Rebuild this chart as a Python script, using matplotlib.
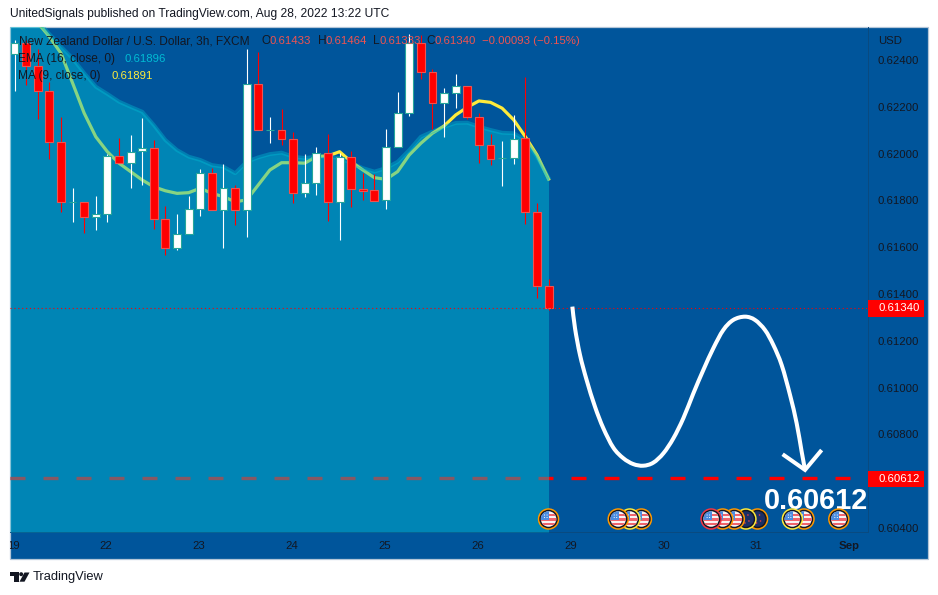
import matplotlib
matplotlib.use('Agg')
import matplotlib.pyplot as plt
from matplotlib.patches import Ellipse, PathPatch, Polygon, Rectangle
from matplotlib.path import Path
from matplotlib.transforms import Bbox

plt.rcParams['font.family'] = ['Liberation Sans', 'DejaVu Sans']

W, H = 938, 595

# 3h candles
opens = [.62426, .62474, .62374, .62269, .62048, .61792, .61792, .61728, .61741, .61991,
         .61959, .62010, .62025, .61719, .61595, .61655, .61763, .61918, .61758, .61854,
         .61758, .62296, .62100, .62100, .62061, .61830, .61873, .62004, .61792, .61984,
         .61847, .61843, .61800, .62027, .62172, .62474, .62350, .62215, .62260, .62288,
         .62155, .62035, .61980, .61980, .62065, .61749, .61433]
highs = [.62485, .62485, .62446, .62307, .62155, .61852, .61792, .61819, .61998, .62068,
         .62079, .62151, .62058, .61776, .61742, .61819, .61933, .61937, .61954, .61866,
         .62446, .62435, .62156, .62189, .62094, .61998, .62029, .62084, .62001, .62011,
         .61916, .61913, .62105, .62263, .62511, .62507, .62360, .62279, .62340, .62288,
         .62172, .62084, .62054, .62165, .62326, .61788, .61464]
lows = [.62269, .62293, .62149, .61977, .61752, .61709, .61659, .61673, .61709, .61959,
        .61854, .61866, .61678, .61567, .61588, .61655, .61735, .61758, .61598, .61695,
        .61645, .62100, .62047, .62037, .61788, .61816, .61823, .61712, .61631, .61773,
        .61802, .61799, .61763, .62027, .62161, .62318, .62105, .62072, .62195, .62147,
        .61961, .61951, .61863, .61956, .61699, .61384, .61333]
closes = [.62474, .62374, .62269, .62048, .61792, .61795, .61728, .61741, .61991, .61959,
          .62008, .62025, .61719, .61595, .61655, .61762, .61918, .61758, .61854, .61758,
          .62296, .62100, .62102, .62061, .61830, .61873, .62004, .61792, .61984, .61847,
          .61841, .61799, .62027, .62172, .62474, .62350, .62215, .62260, .62288, .62155,
          .62035, .61978, .61982, .62064, .61749, .61433, .61340]

ema_16 = [.62678, .62622, .62567, .62511, .62457, .62407, .62344, .62286, .62255, .62222,
          .62200, .62179, .62122, .62058, .62015, .61987, .61973, .61951, .61944, .61916,
          .61965, .61984, .61998, .62004, .61987, .61981, .61987, .61987, .61981, .61960,
          .61938, .61923, .61938, .61965, .62015, .62072, .62094, .62114, .62131, .62132,
          .62115, .62101, .62089, .62087, .62058, .61987, .61896]
ma_9 = [.62656, .62614, .62559, .62500, .62429, .62302, .62173, .62072, .62008, .61959,
        .61923, .61887, .61858, .61841, .61830, .61833, .61852, .61830, .61816, .61794,
        .61802, .61866, .61930, .61961, .61961, .61959, .61987, .61990, .62008, .61965,
        .61930, .61897, .61890, .61923, .61994, .62044, .62087, .62118, .62165, .62198,
        .62225, .62219, .62194, .62144, .62072, .61994, .61891]

# hand drawn forecast
path_idx = [48.05, 48.28, 48.71, 49.28, 50.00, 50.72, 51.58, 52.44, 53.30, 54.16, 55.02, 55.89, 56.75, 57.61,
            58.47, 59.33, 60.19, 61.05, 61.91, 62.92, 63.78, 64.64, 65.36, 66.08, 66.80, 67.37, 67.80, 68.09]
path_price = [.61346, .61253, .61139, .61032, .60918, .60826, .60743, .60698, .60673, .60666, .60679, .60719, .60783, .60869,
              .60975, .61075, .61168, .61246, .61289, .61303, .61289, .61246, .61182, .61096, .60968, .60847, .60726, .60648]
head_idx = [66.16, 68.09, 69.52]
head_price = [.60715, .60648, .60733]

last_price = 0.61340
target_price = 0.60612

price_ticks = [.624, .622, .620, .618, .616, .614, .612, .610, .608, .604]
day_idx = [0, 8, 16, 24, 32, 40, 48, 56, 64, 72]
day_labels = ['19', '22', '23', '24', '25', '26', '29', '30', '31', 'Sep']

event_idx = [46, 52, 53, 54, 60, 61, 62, 63, 64, 67, 68, 71]
event_flag = ['us', 'us', 'us', 'us', 'us', 'us', 'us', 'nz', 'nz', 'us', 'us', 'us']
event_ring = ['#ff9800', '#ff9800', '#ffeb3b', '#ff9800', '#f23645', '#ff9800',
              '#ff9800', '#ffeb3b', '#ff9800', '#ffeb3b', '#ff9800', '#ff9800']

BG = '#00559b'
DARK = '#131722'
RED = '#ff0000'
SOFT_RED = '#ef5350'
TEAL = '#26a69a'

BAR_PX = 11.61
PRICE_PX = 1 / 0.00004274


def ftext(x, y, s, **kw):
    kw.setdefault('va', 'center')
    kw.setdefault('fontsize', 8.3)
    kw.setdefault('color', DARK)
    return fig.text(x / W, 1 - y / H, s, **kw)


def frect(x0, y0, x1, y1, **kw):
    fig.add_artist(Rectangle((x0 / W, 1 - y1 / H), (x1 - x0) / W, (y1 - y0) / H,
                             transform=fig.transFigure, **kw))


def smooth_path(xs, ys):
    # catmull-rom through the points, as bezier segments
    pts = list(zip(xs, ys))
    verts, codes = [pts[0]], [Path.MOVETO]
    for k in range(len(pts) - 1):
        p0 = pts[max(k - 1, 0)]
        p1, p2 = pts[k], pts[k + 1]
        p3 = pts[min(k + 2, len(pts) - 1)]
        verts.append((p1[0] + (p2[0] - p0[0]) / 6, p1[1] + (p2[1] - p0[1]) / 6))
        verts.append((p2[0] - (p3[0] - p1[0]) / 6, p2[1] - (p3[1] - p1[1]) / 6))
        verts.append(p2)
        codes += [Path.CURVE4] * 3
    return Path(verts, codes)


def draw_flag(ax, i, y, kind, ring):
    rx, ry = 1 / BAR_PX, 1 / PRICE_PX
    z = 20 + (100 - i) * 0.01
    ax.add_patch(Ellipse((i, y), 21.5 * rx, 21.5 * ry, fc=ring, ec='none', zorder=z))
    ax.add_patch(Ellipse((i, y), 18.5 * rx, 18.5 * ry, fc=DARK, ec='none', zorder=z))
    clip = Ellipse((i, y), 15.5 * rx, 15.5 * ry, fc='#f8f4f4' if kind == 'us' else '#1c2f66',
                   ec='none', zorder=z)
    ax.add_patch(clip)
    if kind == 'us':
        for k in range(3):
            r = Rectangle((i - 8 * rx, y + (2.6 - 4.4 * k) * ry), 16 * rx, 2.4 * ry, fc='#f0656c', ec='none', zorder=z)
            ax.add_patch(r)
            r.set_clip_path(clip)
        r = Rectangle((i - 8 * rx, y - 0.6 * ry), 8.4 * rx, 9 * ry, fc='#4a8ce0', ec='none', zorder=z)
        ax.add_patch(r)
        r.set_clip_path(clip)
        for dx, dy in [(-4, 4), (-1.5, 4), (-4, 1.5), (-1.5, 1.5)]:
            ax.add_patch(Ellipse((i + dx * rx, y + dy * ry), 1.1 * rx, 1.1 * ry, fc='white', ec='none', zorder=z))
    else:
        for dx, dy in [(-3, 2), (2, 4), (3, -2), (-1, -4)]:
            ax.add_patch(Ellipse((i + dx * rx, y + dy * ry), 1.6 * rx, 1.6 * ry, fc='#e0404a', ec='none', zorder=z))


fig = plt.figure(figsize=(W / 100, H / 100), dpi=100, facecolor='white')

# panel behind the chart
frect(10, 27, 928, 559, fc=BG, ec='#b4c6d8', lw=0.9, zorder=-1)

ax = fig.add_axes([10 / W, 1 - 532 / H, 858 / W, 505 / H])
ax.patch.set_alpha(0)
ax.set_xlim((10 - 14.5) / BAR_PX, (868 - 14.5) / BAR_PX)
ax.set_ylim(.624 - 472 / PRICE_PX, .624 + 33 / PRICE_PX)

for side in ['top', 'left']:
    ax.spines[side].set_visible(False)
for side in ['right', 'bottom']:
    ax.spines[side].set_color('#0a4a80')
    ax.spines[side].set_linewidth(0.7)

idx = list(range(len(closes)))
left, bottom = ax.get_xlim()[0], ax.get_ylim()[0]

# target line sits under the area
ax.plot([left, 72], [target_price, target_price], color=RED, lw=2.4,
        linestyle=(0, (4.5, 5.4)), dash_capstyle='butt', zorder=1)

ax.plot(idx, ma_9, color='#ffeb3b', lw=2.3, zorder=2)
# area runs on to the left edge of the pane
ax.fill_between([left] + idx, [ema_16[0]] + ema_16, bottom, color='#00bcd4', alpha=0.47, lw=0, zorder=3)
ax.plot(idx, ema_16, color='#00bcd4', alpha=0.4, lw=2.8, zorder=3)

for i in idx:
    up = closes[i] >= opens[i]
    ax.vlines(i, lows[i], highs[i], color='white' if up else RED, lw=0.8, zorder=5)
    lo, hi = min(opens[i], closes[i]), max(opens[i], closes[i])
    ax.bar(i, hi - lo, bottom=lo, width=0.68, color='white' if up else RED,
           edgecolor=TEAL if up else SOFT_RED, linewidth=0.8, zorder=6)

ax.axhline(last_price, color=RED, lw=0.8, linestyle=(0, (1, 2.5)), zorder=7)

ax.add_patch(PathPatch(smooth_path(path_idx, path_price), fc='none', ec='white', lw=2.9,
                       capstyle='butt', zorder=8))
ax.plot(head_idx, head_price, color='white', lw=2.9, solid_capstyle='butt', solid_joinstyle='miter', zorder=8)

ax.text((868 - 14.5) / BAR_PX, target_price - 22.5 / PRICE_PX, '0.60612', color='white',
        fontsize=20.8, fontweight='bold', ha='right', va='center', clip_on=True, zorder=9)

flag_y = .624 - 459 / PRICE_PX
for i, kind, ring in zip(event_idx, event_flag, event_ring):
    draw_flag(ax, i, flag_y, kind, ring)

ax.yaxis.tick_right()
ax.set_yticks(price_ticks)
ax.set_yticklabels([f'{p:.5f}' for p in price_ticks], fontsize=8.2, color=DARK)
ax.tick_params(axis='y', length=0, pad=7)
ax.set_xticks([d - 0.1 for d in day_idx])
ax.set_xticklabels(day_labels, fontsize=8.2, color=DARK)
ax.tick_params(axis='x', length=0, pad=6.5)
ax.get_xticklabels()[-1].set_fontweight('bold')
panel_box = Bbox.from_extents(10, 36, 928, 568)
for lab in ax.get_xticklabels():
    lab.set_clip_box(panel_box)
    lab.set_clip_on(True)

# price labels on the scale
ftext(878, 40.5, 'USD', fontsize=8.2)
frect(868, 300, 923.5, 316.7, fc=RED, ec='none', zorder=3)
ftext(878, 308.3, '0.61340', color='white', fontsize=8.2, zorder=4)
frect(868, 471, 923.5, 487.3, fc=RED, ec='none', zorder=3)
ftext(878, 479.2, '0.60612', color='white', fontsize=8.2, zorder=4)

# header and legend
ftext(10.5, 14.5, 'UnitedSignals published on TradingView.com, Aug 28, 2022 13:22 UTC', fontsize=8.68)
ftext(18.5, 41.5, 'New Zealand Dollar / U.S. Dollar, 3h, FXCM', fontsize=8.6)
for x, s in [(261, 'O'), (317.7, 'H'), (373, 'L'), (426.7, 'C')]:
    ftext(x, 41.5, s, fontsize=8.6)
for x, s in [(269, '0.61433'), (325, '0.61464'), (379, '0.61333'), (434, '0.61340'), (481.7, '−0.00093 (−0.15%)')]:
    ftext(x, 41.5, s, color=SOFT_RED, fontsize=8.2)
ftext(17.5, 59, 'EMA (16, close, 0)', fontsize=8.6)
ftext(124, 59, '0.61896', color='#00bcd4', fontsize=8.2)
ftext(18, 76, 'MA (9, close, 0)', fontsize=8.6)
ftext(111.7, 76, '0.61891', color='#ffeb3b', fontsize=8.2)

# logo
logo = [[(10, 572.3), (19, 572.3), (19, 581.7), (14, 581.7), (14, 576), (10, 576)],
        [(24.5, 572.5), (29.5, 572.5), (24.5, 581.7), (19.5, 581.7)]]
for pts in logo:
    fig.add_artist(Polygon([(x / W, 1 - y / H) for x, y in pts], closed=True, fc=DARK, ec='none',
                           transform=fig.transFigure))
fig.add_artist(Ellipse((21.2 / W, 1 - 574.2 / H), 4 / W, 4 / H, fc=DARK, ec='none', transform=fig.transFigure))
ftext(33, 577, 'TradingView', fontsize=9.3)

fig.savefig('out.png', dpi=100)
plt.close()
